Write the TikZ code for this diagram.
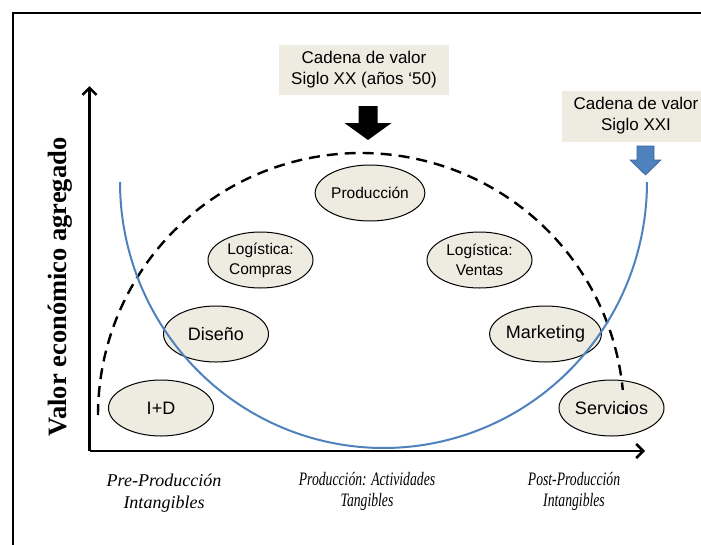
\documentclass[tikz,border=0pt]{standalone}
\usepackage{fontspec}
\setmainfont{Liberation Sans}
\newfontfamily\seriffont{Liberation Serif}
\usetikzlibrary{shapes.geometric,arrows.meta}
\definecolor{beige}{HTML}{EEECE1}
\definecolor{oblue}{HTML}{4F81BD}
\definecolor{oblueedge}{HTML}{3A6599}
\begin{document}
\begin{tikzpicture}[x=1pt,y=-1pt,
  stage/.style={ellipse,draw=black,line width=1pt,fill=beige,minimum width=105pt,minimum height=56pt,inner sep=0pt,align=center},
  small/.style={font=\fontsize{15.5}{20}\selectfont},
  big/.style={font=\fontsize{18}{21}\selectfont},
  label/.style={fill=beige,inner sep=0pt,align=center,font=\fontsize{17}{21}\selectfont},
  axis/.style={line width=2.4pt,-{Straight Barb[length=7pt,width=14pt,line width=2.6pt]}},
  dashcurve/.style={line width=2.4pt,dash pattern=on 11pt off 7pt},
  bluecurve/.style={oblue,line width=2pt},
  cat/.style={align=center,font=\seriffont\itshape\fontsize{18}{21.5}\selectfont},
  catn/.style={align=center,font=\seriffont\itshape\fontsize{19}{21}\selectfont}
]
\useasboundingbox (0,0) rectangle (701,544);
\clip (0,0) rectangle (701,544);
% frame
\draw[line width=2pt] (13,560) -- (13,13) -- (720,13);
% axes
\coordinate (O) at (89.5,451);
\coordinate (ytop) at (89.5,86);
\coordinate (xend) at (645,451);
\draw[axis] (O) -- (ytop);
\draw[axis] (O) -- (xend);
% y label
\node[rotate=90,font=\seriffont\bfseries\fontsize{26.5}{30}\selectfont] (ylab) at (60,287) {Valor económico agregado};
% top labels
\node[label,minimum width=170pt,minimum height=50pt] (c20) at (364,70) {Cadena de valor\\Siglo XX (años ‘50)};
\node[label,minimum width=148pt,minimum height=51pt] (c21) at (636,116) {Cadena de valor\\Siglo XXI};
% block arrows
\fill[black] (358.5,106) -- (377.5,106) -- (377.5,123) -- (391.5,123) -- (368,140) -- (344.5,123) -- (358.5,123) -- cycle;
\filldraw[fill=oblue,draw=oblueedge,line width=0.6pt] (637,146) -- (654,146) -- (654,160) -- (661,160) -- (645.5,175) -- (630,160) -- (637,160) -- cycle;
% stages
\node[stage,small] (prod) at (370,193) {Producción};
\node[stage,small] (logc) at (260.5,260) {Logística:\\Compras};
\node[stage,small] (logv) at (479.5,260) {Logística:\\Ventas};
\node[stage,big] (dis) at (216,334) {Diseño};
\node[stage,big] (mkt) at (545.5,334) {Marketing};
\node[stage,big] (id) at (161,408) {I+D};
\node[stage,big] (serv) at (611.5,408) {Servicios};
% curves
\draw[dashcurve] plot[domain=180:5.5,samples=120,smooth] ({361+263*cos(\x)},{415-262*sin(\x)});
\draw[line width=2pt] (625.5,405) -- (625.5,414);
\draw[bluecurve] plot[domain=0:180,samples=120,smooth] ({383.5+263.5*cos(\x)},{182+266*sin(\x)});
% category labels
\node[cat] (pre) at (164,493) {Pre-Producción\\Intangibles};
\node[catn] (mid) at (367,491) {\scalebox{0.72}[1]{Producción: Actividades}\\\scalebox{0.72}[1]{Tangibles}};
\node[catn] (post) at (574,491) {\scalebox{0.72}[1]{Post-Producción}\\\scalebox{0.72}[1]{Intangibles}};
\end{tikzpicture}
\end{document}
